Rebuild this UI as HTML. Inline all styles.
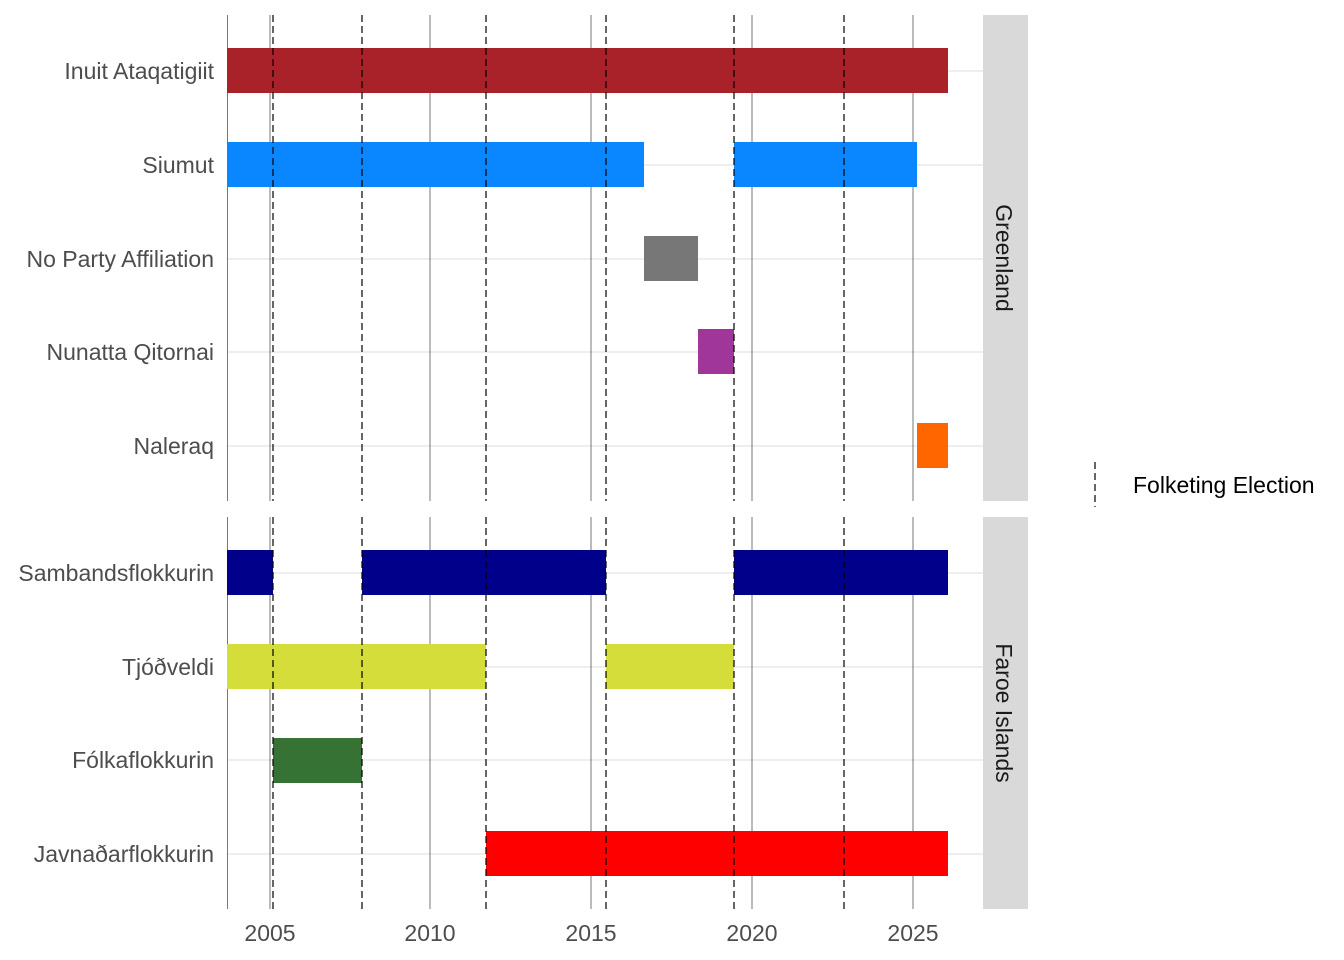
<!DOCTYPE html>
<html><head><meta charset="utf-8"><style>body{margin:0;background:#fff}svg{display:block}text{font-family:"Liberation Sans",sans-serif}</style></head><body>
<svg width="1344" height="960" xmlns="http://www.w3.org/2000/svg">
<g stroke="#dcdcdc" stroke-width="1">
<line x1="227" x2="983" y1="71" y2="71"/><line x1="227" x2="983" y1="165" y2="165"/><line x1="227" x2="983" y1="259" y2="259"/><line x1="227" x2="983" y1="352" y2="352"/><line x1="227" x2="983" y1="446" y2="446"/>
<line x1="227" x2="983" y1="573" y2="573"/><line x1="227" x2="983" y1="667" y2="667"/><line x1="227" x2="983" y1="760" y2="760"/><line x1="227" x2="983" y1="854" y2="854"/>
</g>
<g stroke="#555" stroke-width="0.8">
<line x1="227.5" x2="227.5" y1="15" y2="501"/><line x1="227.5" x2="227.5" y1="517" y2="909"/>
<line x1="270" x2="270" y1="15" y2="501"/><line x1="270" x2="270" y1="517" y2="909"/>
<line x1="430" x2="430" y1="15" y2="501"/><line x1="430" x2="430" y1="517" y2="909"/>
<line x1="591" x2="591" y1="15" y2="501"/><line x1="591" x2="591" y1="517" y2="909"/>
<line x1="752" x2="752" y1="15" y2="501"/><line x1="752" x2="752" y1="517" y2="909"/>
<line x1="913" x2="913" y1="15" y2="501"/><line x1="913" x2="913" y1="517" y2="909"/>
</g>
<g>
<rect x="227" y="48" width="721" height="45" fill="#AA2229"/>
<rect x="227" y="142" width="417" height="45" fill="#0A86FF"/>
<rect x="734" y="142" width="183" height="45" fill="#0A86FF"/>
<rect x="644" y="236" width="54" height="45" fill="#777"/>
<rect x="698" y="329" width="36" height="45" fill="#A0359A"/>
<rect x="917" y="423" width="31" height="45" fill="#FF6600"/>
<rect x="227" y="550" width="46" height="45" fill="#00008B"/>
<rect x="362" y="550" width="244" height="45" fill="#00008B"/>
<rect x="734" y="550" width="214" height="45" fill="#00008B"/>
<rect x="227" y="644" width="259" height="45" fill="#D4DD3A"/>
<rect x="606" y="644" width="128" height="45" fill="#D4DD3A"/>
<rect x="273" y="738" width="89" height="45" fill="#357234"/>
<rect x="486" y="831" width="462" height="45" fill="#FF0000"/>
</g>
<g stroke="#000" stroke-width="1.2" stroke-dasharray="7,4">
<line x1="273" x2="273" y1="15" y2="501"/><line x1="273" x2="273" y1="517" y2="909"/>
<line x1="362" x2="362" y1="15" y2="501"/><line x1="362" x2="362" y1="517" y2="909"/>
<line x1="486" x2="486" y1="15" y2="501"/><line x1="486" x2="486" y1="517" y2="909"/>
<line x1="606" x2="606" y1="15" y2="501"/><line x1="606" x2="606" y1="517" y2="909"/>
<line x1="734" x2="734" y1="15" y2="501"/><line x1="734" x2="734" y1="517" y2="909"/>
<line x1="844" x2="844" y1="15" y2="501"/><line x1="844" x2="844" y1="517" y2="909"/>
<line x1="1095" x2="1095" y1="462" y2="507"/>
</g>
<rect x="983" y="15" width="45" height="486" fill="#d9d9d9"/>
<rect x="983" y="517" width="45" height="392" fill="#d9d9d9"/>
<text transform="translate(996,258) rotate(90)" font-size="23" fill="#1a1a1a" text-anchor="middle">Greenland</text>
<text transform="translate(996,713) rotate(90)" font-size="23" fill="#1a1a1a" text-anchor="middle">Faroe Islands</text>
<g font-size="23" fill="#4d4d4d" text-anchor="end">
<text x="214" y="79">Inuit Ataqatigiit</text>
<text x="214" y="173">Siumut</text>
<text x="214" y="267">No Party Affiliation</text>
<text x="214" y="360">Nunatta Qitornai</text>
<text x="214" y="454">Naleraq</text>
<text x="214" y="581">Sambandsflokkurin</text>
<text x="214" y="675">Tjóðveldi</text>
<text x="214" y="768">Fólkaflokkurin</text>
<text x="214" y="862">Javnaðarflokkurin</text>
</g>
<g font-size="23" fill="#4d4d4d" text-anchor="middle">
<text x="270" y="941">2005</text><text x="430" y="941">2010</text><text x="591" y="941">2015</text><text x="752" y="941">2020</text><text x="913" y="941">2025</text>
</g>
<text x="1133" y="493" font-size="23" fill="#000">Folketing Election</text>
</svg>
</body></html>
